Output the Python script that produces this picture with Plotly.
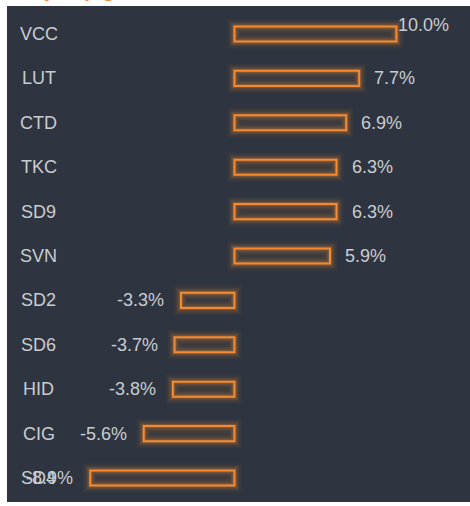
import plotly.graph_objects as go

categories = ["VCC", "LUT", "CTD", "TKC", "SD9", "SVN", "SD2", "SD6", "HID", "CIG", "SD4"]
changes = [10.0, 7.7, 6.9, 6.3, 6.3, 5.9, -3.3, -3.7, -3.8, -5.6, -8.9]
title_text = "Daily Top gainers & losers"

ORANGE = "#f48b33"
BG = "#2e3540"
TXT = "#c9ccd1"
FONT = "Liberation Sans, Arial, sans-serif"

fig = go.Figure()

# glow layers (wide, faint outlines behind the crisp bar)
for w, a in [(14, 0.05), (10, 0.08), (7, 0.12), (4, 0.2)]:
    fig.add_trace(go.Bar(
        x=changes, y=categories, orientation="h", width=0.34,
        marker=dict(color="rgba(0,0,0,0)", line=dict(color=f"rgba(244,139,51,{a})", width=w)),
        hoverinfo="skip", showlegend=False,
    ))

fig.add_trace(go.Bar(
    x=changes, y=categories, orientation="h", width=0.34,
    marker=dict(color="rgba(244,139,51,0.06)", line=dict(color=ORANGE, width=2)),
    showlegend=False,
))

annotations = []
vmax = max(changes)
for c, v in zip(categories, changes):
    annotations.append(dict(x=0.069, xref="paper", y=c, yref="y", text=c, showarrow=False,
                            xanchor="center", yanchor="middle",
                            font=dict(family=FONT, size=18, color=TXT)))
    label = f"{v:.1f}%"
    if v == vmax:
        annotations.append(dict(x=v, y=c, xref="x", yref="y", text=label, showarrow=False,
                                xanchor="left", yanchor="middle", xshift=0, yshift=9,
                                font=dict(family=FONT, size=18, color=TXT)))
    elif v >= 0:
        annotations.append(dict(x=v, y=c, xref="x", yref="y", text=label, showarrow=False,
                                xanchor="left", yanchor="middle", xshift=13,
                                font=dict(family=FONT, size=18, color=TXT)))
    else:
        annotations.append(dict(x=v, y=c, xref="x", yref="y", text=label, showarrow=False,
                                xanchor="right", yanchor="middle", xshift=-15,
                                font=dict(family=FONT, size=18, color=TXT)))

annotations.append(dict(x=0, xref="paper", y=1, yref="paper", text=f"<b><i>{title_text}</i></b>",
                        showarrow=False, xanchor="left", yanchor="bottom", yshift=3,
                        font=dict(family=FONT, size=20, color=ORANGE)))

fig.update_layout(
    width=470, height=506,
    margin=dict(l=7, r=0, t=6, b=4),
    paper_bgcolor="white", plot_bgcolor=BG,
    barmode="overlay",
    xaxis=dict(range=[-14.04, 14.54], visible=False, fixedrange=True),
    yaxis=dict(range=[10.54, -0.63], categoryorder="array", categoryarray=categories,
               visible=False, fixedrange=True),
    annotations=annotations,
    showlegend=False,
)

fig.write_html("out.html", config={"displayModeBar": False},
               post_script=("document.documentElement.style.overflow='hidden';"
                            "document.body.style.margin='0';document.body.style.overflow='hidden';"))
